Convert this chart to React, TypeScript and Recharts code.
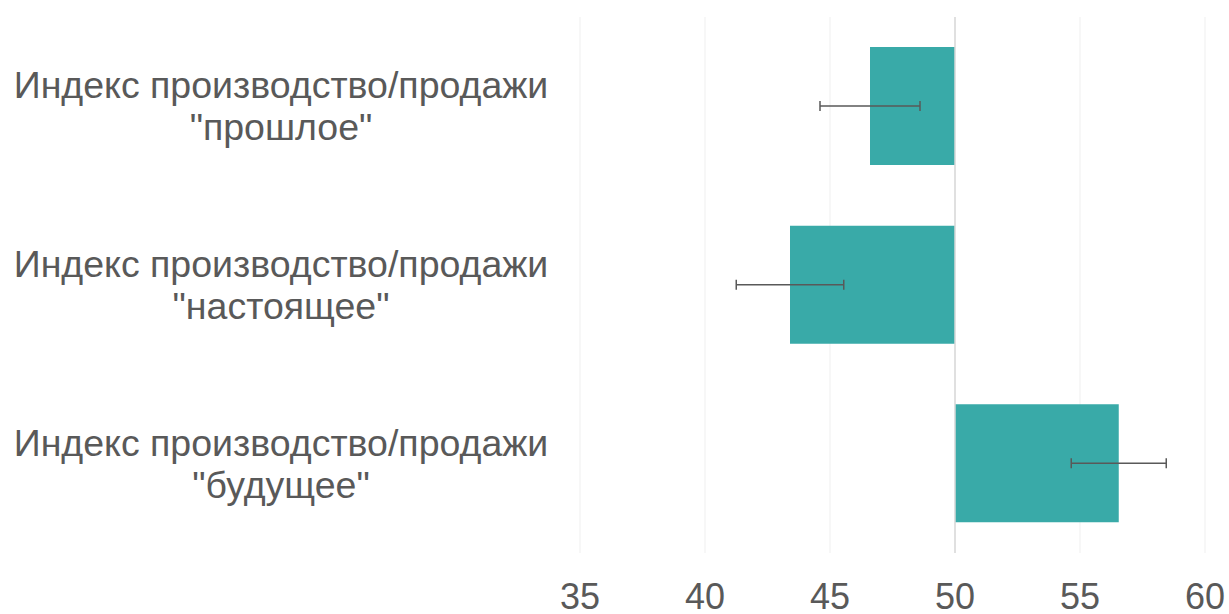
import { Bar, BarChart, CartesianGrid, ErrorBar, ReferenceLine, XAxis, YAxis } from "recharts";

const categories = [
  'Индекс производство/продажи\n"прошлое"',
  'Индекс производство/продажи\n"настоящее"',
  'Индекс производство/продажи\n"будущее"',
];
const indexValues = [46.6, 43.4, 56.55];
const errorValues = [2.0, 2.15, 1.9];
const xTicks = [35, 40, 45, 50, 55, 60];
const baseline = 50;

const data = categories.map((name, i) => ({
  name,
  range: [baseline, indexValues[i]],
  err: errorValues[i],
}));

const textColor = "#595959";
const font = "'Liberation Sans', Arial, sans-serif";

function CategoryTick({ y, payload }: any) {
  const lines = String(payload.value).split("\n");
  return (
    <text x={281} y={y} textAnchor="middle" fill={textColor} fontSize={37.5} fontFamily={font}>
      {lines.map((line, i) => (
        <tspan key={i} x={281} y={y - 8 + i * 42}>
          {line}
        </tspan>
      ))}
    </text>
  );
}

export default function App() {
  return (
    <div style={{ position: "absolute", left: 0, top: 0, background: "#fff" }}>
      <BarChart
        width={1229}
        height={614}
        data={data}
        layout="vertical"
        margin={{ top: 17, right: 24, bottom: 0, left: 0 }}
        barCategoryGap="17%"
      >
        <CartesianGrid stroke="#efefef" horizontal={false} />
        <XAxis
          type="number"
          domain={[35, 60]}
          ticks={xTicks}
          allowDataOverflow
          axisLine={false}
          tickLine={false}
          height={61}
          tickMargin={24}
          tick={{ fontSize: 36, fill: textColor, fontFamily: font }}
        />
        <YAxis
          type="category"
          dataKey="name"
          width={580}
          axisLine={false}
          tickLine={false}
          tick={<CategoryTick />}
        />
        <ReferenceLine x={baseline} stroke="#d9d9d9" strokeWidth={1.5} />
        <Bar dataKey="range" fill="#39aaa8" barSize={118} isAnimationActive={false}>
          <ErrorBar dataKey="err" direction="x" width={5} stroke="#595959" strokeWidth={1.5} />
        </Bar>
      </BarChart>
    </div>
  );
}
